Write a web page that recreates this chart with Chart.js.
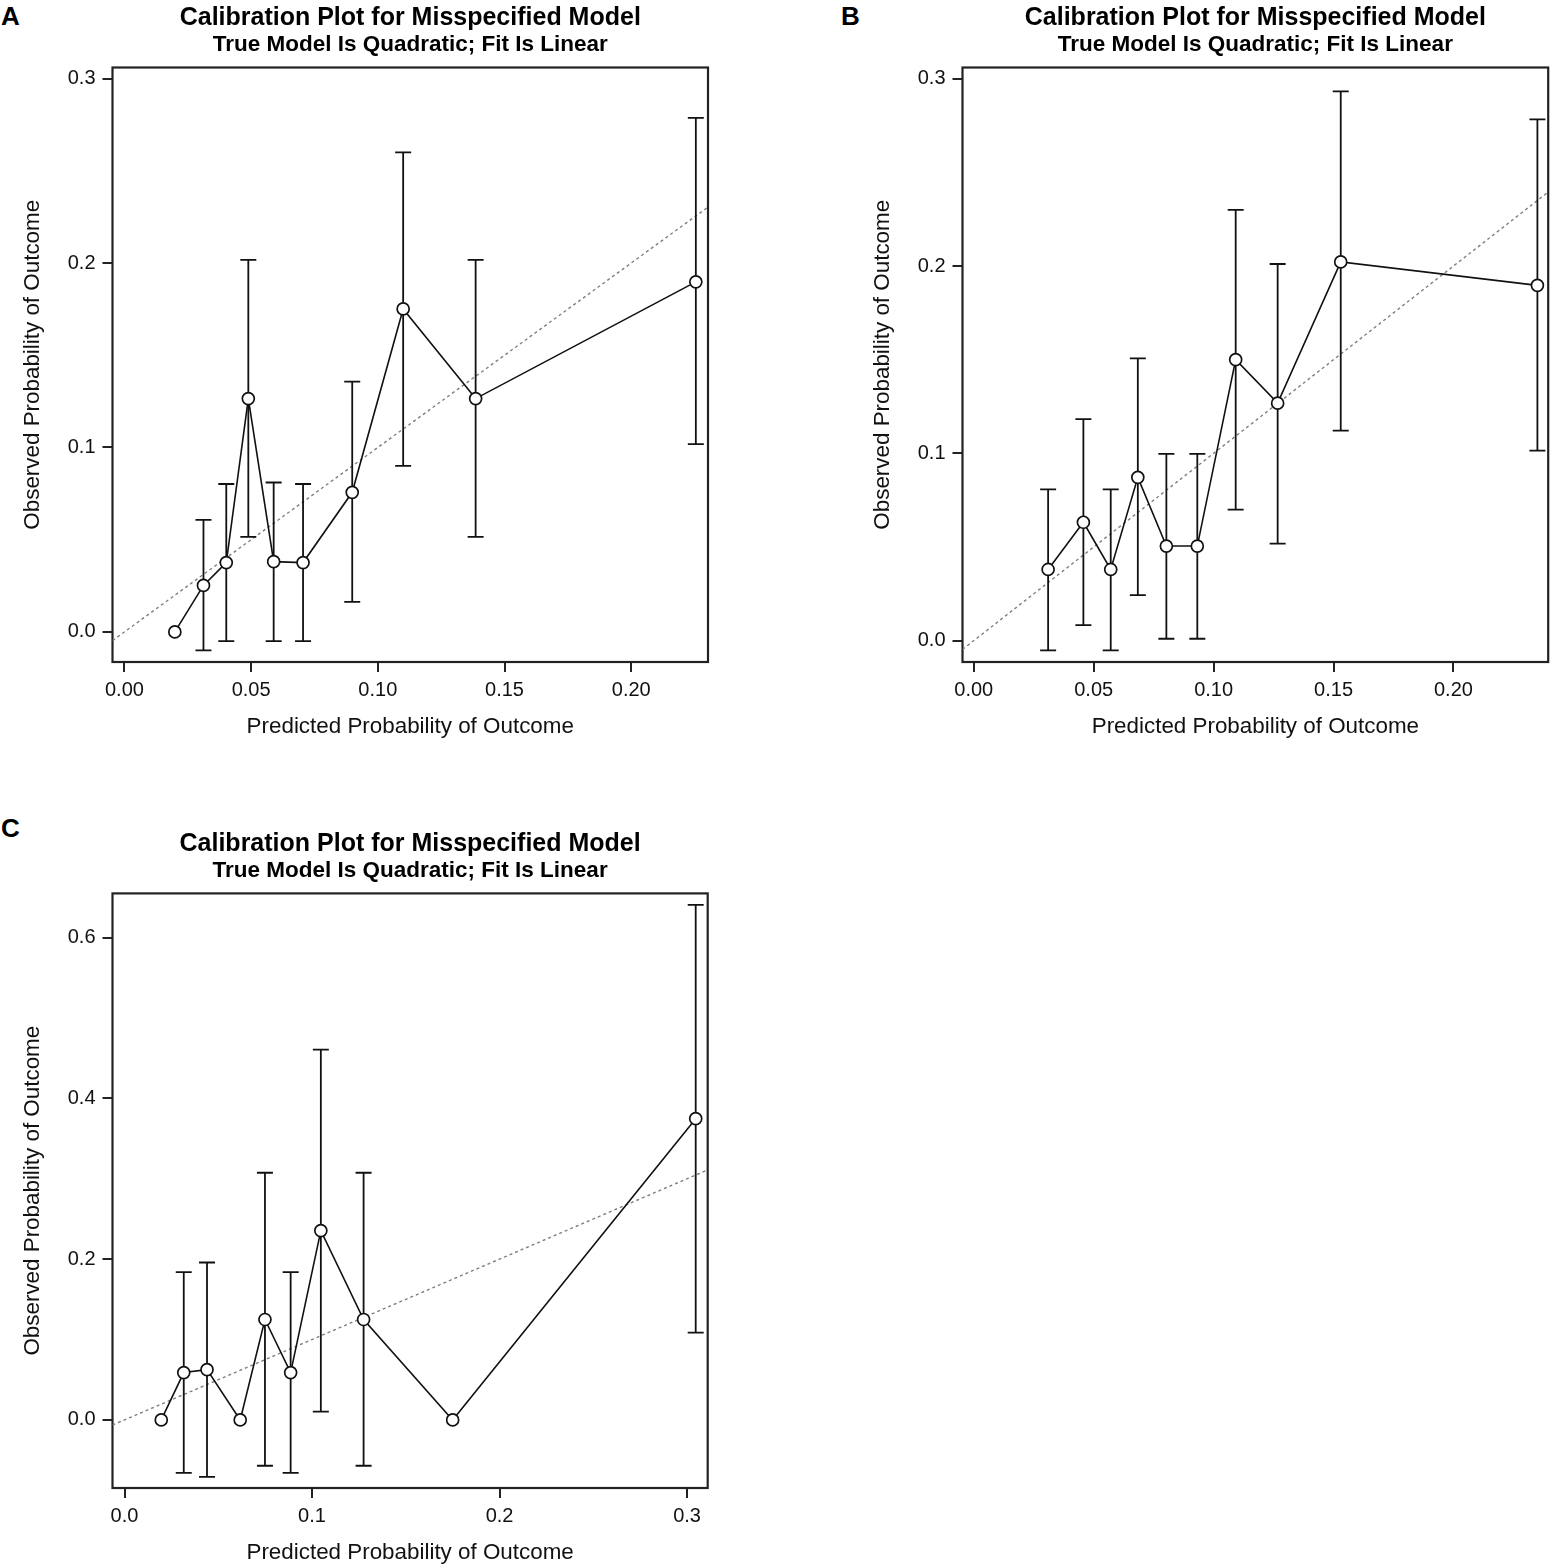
<!DOCTYPE html>
<html lang="en">
<head>
<meta charset="UTF-8">
<title>Calibration Plot for Misspecified Model</title>
<script src="https://cdn.jsdelivr.net/npm/chart.js"></script>
<style>
    body { margin: 0; background: #fff; width: 1558px; height: 1566px; overflow: hidden; position: relative; font-family: "Liberation Sans", Arial, sans-serif; }
    .panel { position: absolute; }
    .letter { position: absolute; font-weight: bold; font-size: 26px; line-height: 26px; color: #000; }
</style>
</head>
<body>
<div class="letter" style="left:1px;top:3px">A</div>
<div class="letter" style="left:841px;top:3px">B</div>
<div class="letter" style="left:1px;top:815px">C</div>

<div class="panel" style="left:0;top:0;width:720px;height:740px"><canvas id="chartA"></canvas></div>
<div class="panel" style="left:850px;top:0;width:708px;height:740px"><canvas id="chartB"></canvas></div>
<div class="panel" style="left:0;top:810px;width:720px;height:756px"><canvas id="chartC"></canvas></div>

<script>
// Panel A
const predA = [0.0199, 0.0312, 0.0402, 0.0489, 0.0589, 0.0705, 0.0899, 0.110, 0.1386, 0.2255];
const obsA  = [0, 0.0252, 0.0376, 0.1265, 0.0381, 0.0376, 0.0757, 0.1751, 0.1265, 0.1898];
const lowA  = [null, -0.010, -0.005, 0.0515, -0.005, -0.005, 0.0163, 0.090, 0.0515, 0.1018];
const upA   = [null, 0.0607, 0.0802, 0.2017, 0.081, 0.0802, 0.1357, 0.260, 0.2017, 0.2787];
const xTicksA = [0, 0.05, 0.10, 0.15, 0.20];
const xLabelsA = ['0.00', '0.05', '0.10', '0.15', '0.20'];
const yTicksA = [0, 0.1, 0.2, 0.3];
const yLabelsA = ['0.0', '0.1', '0.2', '0.3'];
const xRangeA = [-0.0047, 0.2303];
const yRangeA = [-0.0163, 0.306];

// Panel B
const predB = [0.031, 0.0457, 0.0571, 0.0684, 0.0803, 0.0932, 0.1092, 0.1267, 0.153, 0.235];
const obsB  = [0.038, 0.0632, 0.038, 0.0872, 0.0505, 0.0505, 0.150, 0.1268, 0.2022, 0.1897];
const lowB  = [-0.0052, 0.0083, -0.0052, 0.0243, 0.001, 0.001, 0.070, 0.0518, 0.1121, 0.1015];
const upB   = [0.0808, 0.1183, 0.0808, 0.1507, 0.0997, 0.0997, 0.230, 0.2011, 0.2933, 0.2783];
const xTicksB = [0, 0.05, 0.10, 0.15, 0.20];
const xLabelsB = ['0.00', '0.05', '0.10', '0.15', '0.20'];
const yTicksB = [0, 0.1, 0.2, 0.3];
const yLabelsB = ['0.0', '0.1', '0.2', '0.3'];
const xRangeB = [-0.0047, 0.2395];
const yRangeB = [-0.0114, 0.306];

// Panel C
const predC = [0.0196, 0.0316, 0.044, 0.0617, 0.0749, 0.0886, 0.1047, 0.1275, 0.175, 0.3046];
const obsC  = [0, 0.0589, 0.0625, 0, 0.1249, 0.0589, 0.2354, 0.1249, 0, 0.3748];
const lowC  = [null, -0.066, -0.0709, null, -0.057, -0.066, 0.0102, -0.057, null, 0.1087];
const upC   = [null, 0.1838, 0.1958, null, 0.3075, 0.1838, 0.4607, 0.3075, null, 0.6408];
const xTicksC = [0, 0.1, 0.2, 0.3];
const xLabelsC = ['0.0', '0.1', '0.2', '0.3'];
const yTicksC = [0, 0.2, 0.4, 0.6];
const yLabelsC = ['0.0', '0.2', '0.4', '0.6'];
const xRangeC = [-0.0064, 0.311];
const yRangeC = [-0.0847, 0.655];

const titleText = 'Calibration Plot for Misspecified Model';
const subtitleText = 'True Model Is Quadratic; Fit Is Linear';

Chart.defaults.font.family = '"Liberation Sans", Arial, sans-serif';
Chart.defaults.color = '#111';

// frame around the plotting region
const boxPlugin = {
    id: 'box',
    beforeDatasetsDraw(chart) {
        const { ctx, chartArea: a } = chart;
        ctx.save();
        ctx.lineWidth = 2.2;
        ctx.strokeStyle = '#222';
        ctx.strokeRect(a.left, a.top, a.right - a.left, a.bottom - a.top);
        ctx.restore();
    }
};

function errorSegments(pred, low, up) {
    const pts = [];
    pred.forEach((x, i) => {
        if (up[i] === null) return;
        pts.push({ x: x, y: low[i] }, { x: x, y: up[i] }, { x: x, y: null });
    });
    return pts;
}

function errorCaps(pred, low, up) {
    const pts = [];
    pred.forEach((x, i) => {
        if (up[i] === null) return;
        pts.push({ x: x, y: low[i] }, { x: x, y: up[i] });
    });
    return pts;
}

function makeChart(id, d, pads) {
    const ctx = document.getElementById(id).getContext('2d');
    return new Chart(ctx, {
        type: 'scatter',
        data: {
            datasets: [{
                data: d.pred.map((x, i) => ({ x: x, y: d.obs[i] })),
                showLine: true,
                borderColor: '#111',
                borderWidth: 1.6,
                pointRadius: 6,
                pointBorderWidth: 1.7,
                pointBorderColor: '#111',
                pointBackgroundColor: '#fff',
                order: 0
            }, {
                data: errorSegments(d.pred, d.low, d.up),
                showLine: true,
                spanGaps: false,
                borderColor: '#111',
                borderWidth: 1.8,
                pointRadius: 0,
                order: 1
            }, {
                data: errorCaps(d.pred, d.low, d.up),
                showLine: false,
                pointStyle: 'line',
                pointRadius: 8,
                pointBorderWidth: 1.8,
                pointBorderColor: '#111',
                order: 1
            }, {
                data: [{ x: d.xRange[0], y: d.xRange[0] }, { x: d.xRange[1], y: d.xRange[1] }],
                showLine: true,
                borderColor: '#7f7f7f',
                borderWidth: 1.4,
                borderDash: [3, 3],
                pointRadius: 0,
                order: 2
            }]
        },
        options: {
            responsive: true,
            maintainAspectRatio: false,
            animation: false,
            events: [],
            layout: { padding: { left: 0, right: pads.right, top: 0, bottom: 0 } },
            plugins: {
                legend: { display: false },
                tooltip: { enabled: false },
                title: {
                    display: true,
                    fullSize: false,
                    text: titleText,
                    color: '#000',
                    font: { size: 25, weight: 'bold', lineHeight: 1 },
                    padding: { top: pads.title, bottom: 0 }
                },
                subtitle: {
                    display: true,
                    fullSize: false,
                    text: subtitleText,
                    color: '#000',
                    font: { size: 22.5, weight: 'bold', lineHeight: 1 },
                    padding: { top: pads.subTop, bottom: pads.subBottom }
                }
            },
            scales: {
                x: {
                    type: 'linear',
                    min: d.xRange[0],
                    max: d.xRange[1],
                    afterBuildTicks: s => { s.ticks = d.xTicks.map(v => ({ value: v })); },
                    afterFit: s => { s.height = 78; },
                    ticks: {
                        autoSkip: false,
                        maxRotation: 0,
                        padding: 6,
                        color: '#111',
                        font: { size: 20 },
                        callback: (v, i) => d.xLabels[i]
                    },
                    grid: { drawOnChartArea: false, tickLength: 10, lineWidth: 2, color: '#222' },
                    border: { display: false },
                    title: {
                        display: true,
                        text: 'Predicted Probability of Outcome',
                        color: '#111',
                        font: { size: 22.4 },
                        padding: { top: 0, bottom: 0 }
                    }
                },
                y: {
                    type: 'linear',
                    min: d.yRange[0],
                    max: d.yRange[1],
                    afterBuildTicks: s => { s.ticks = d.yTicks.map(v => ({ value: v })); },
                    afterFit: s => { s.width = 112.5; },
                    ticks: {
                        autoSkip: false,
                        padding: 7,
                        color: '#111',
                        font: { size: 20 },
                        callback: (v, i) => d.yLabels[i]
                    },
                    grid: { drawOnChartArea: false, tickLength: 10, lineWidth: 2, color: '#222' },
                    border: { display: false },
                    title: {
                        display: true,
                        text: 'Observed Probability of Outcome',
                        color: '#111',
                        font: { size: 22.4 },
                        padding: { top: 19.2, bottom: 0 }
                    }
                }
            }
        },
        plugins: [boxPlugin]
    });
}

makeChart('chartA', {
    pred: predA, obs: obsA, low: lowA, up: upA,
    xTicks: xTicksA, xLabels: xLabelsA, yTicks: yTicksA, yLabels: yLabelsA,
    xRange: xRangeA, yRange: yRangeA
}, { right: 12, title: 5.9, subTop: 2.45, subBottom: 11.65 });

makeChart('chartB', {
    pred: predB, obs: obsB, low: lowB, up: upB,
    xTicks: xTicksB, xLabels: xLabelsB, yTicks: yTicksB, yLabels: yLabelsB,
    xRange: xRangeB, yRange: yRangeB
}, { right: 1.4, title: 5.9, subTop: 2.45, subBottom: 11.65 });

makeChart('chartC', {
    pred: predC, obs: obsC, low: lowC, up: upC,
    xTicks: xTicksC, xLabels: xLabelsC, yTicks: yTicksC, yLabels: yLabelsC,
    xRange: xRangeC, yRange: yRangeC
}, { right: 12.3, title: 21.2, subTop: 2.85, subBottom: 11.85 });
</script>
</body>
</html>
